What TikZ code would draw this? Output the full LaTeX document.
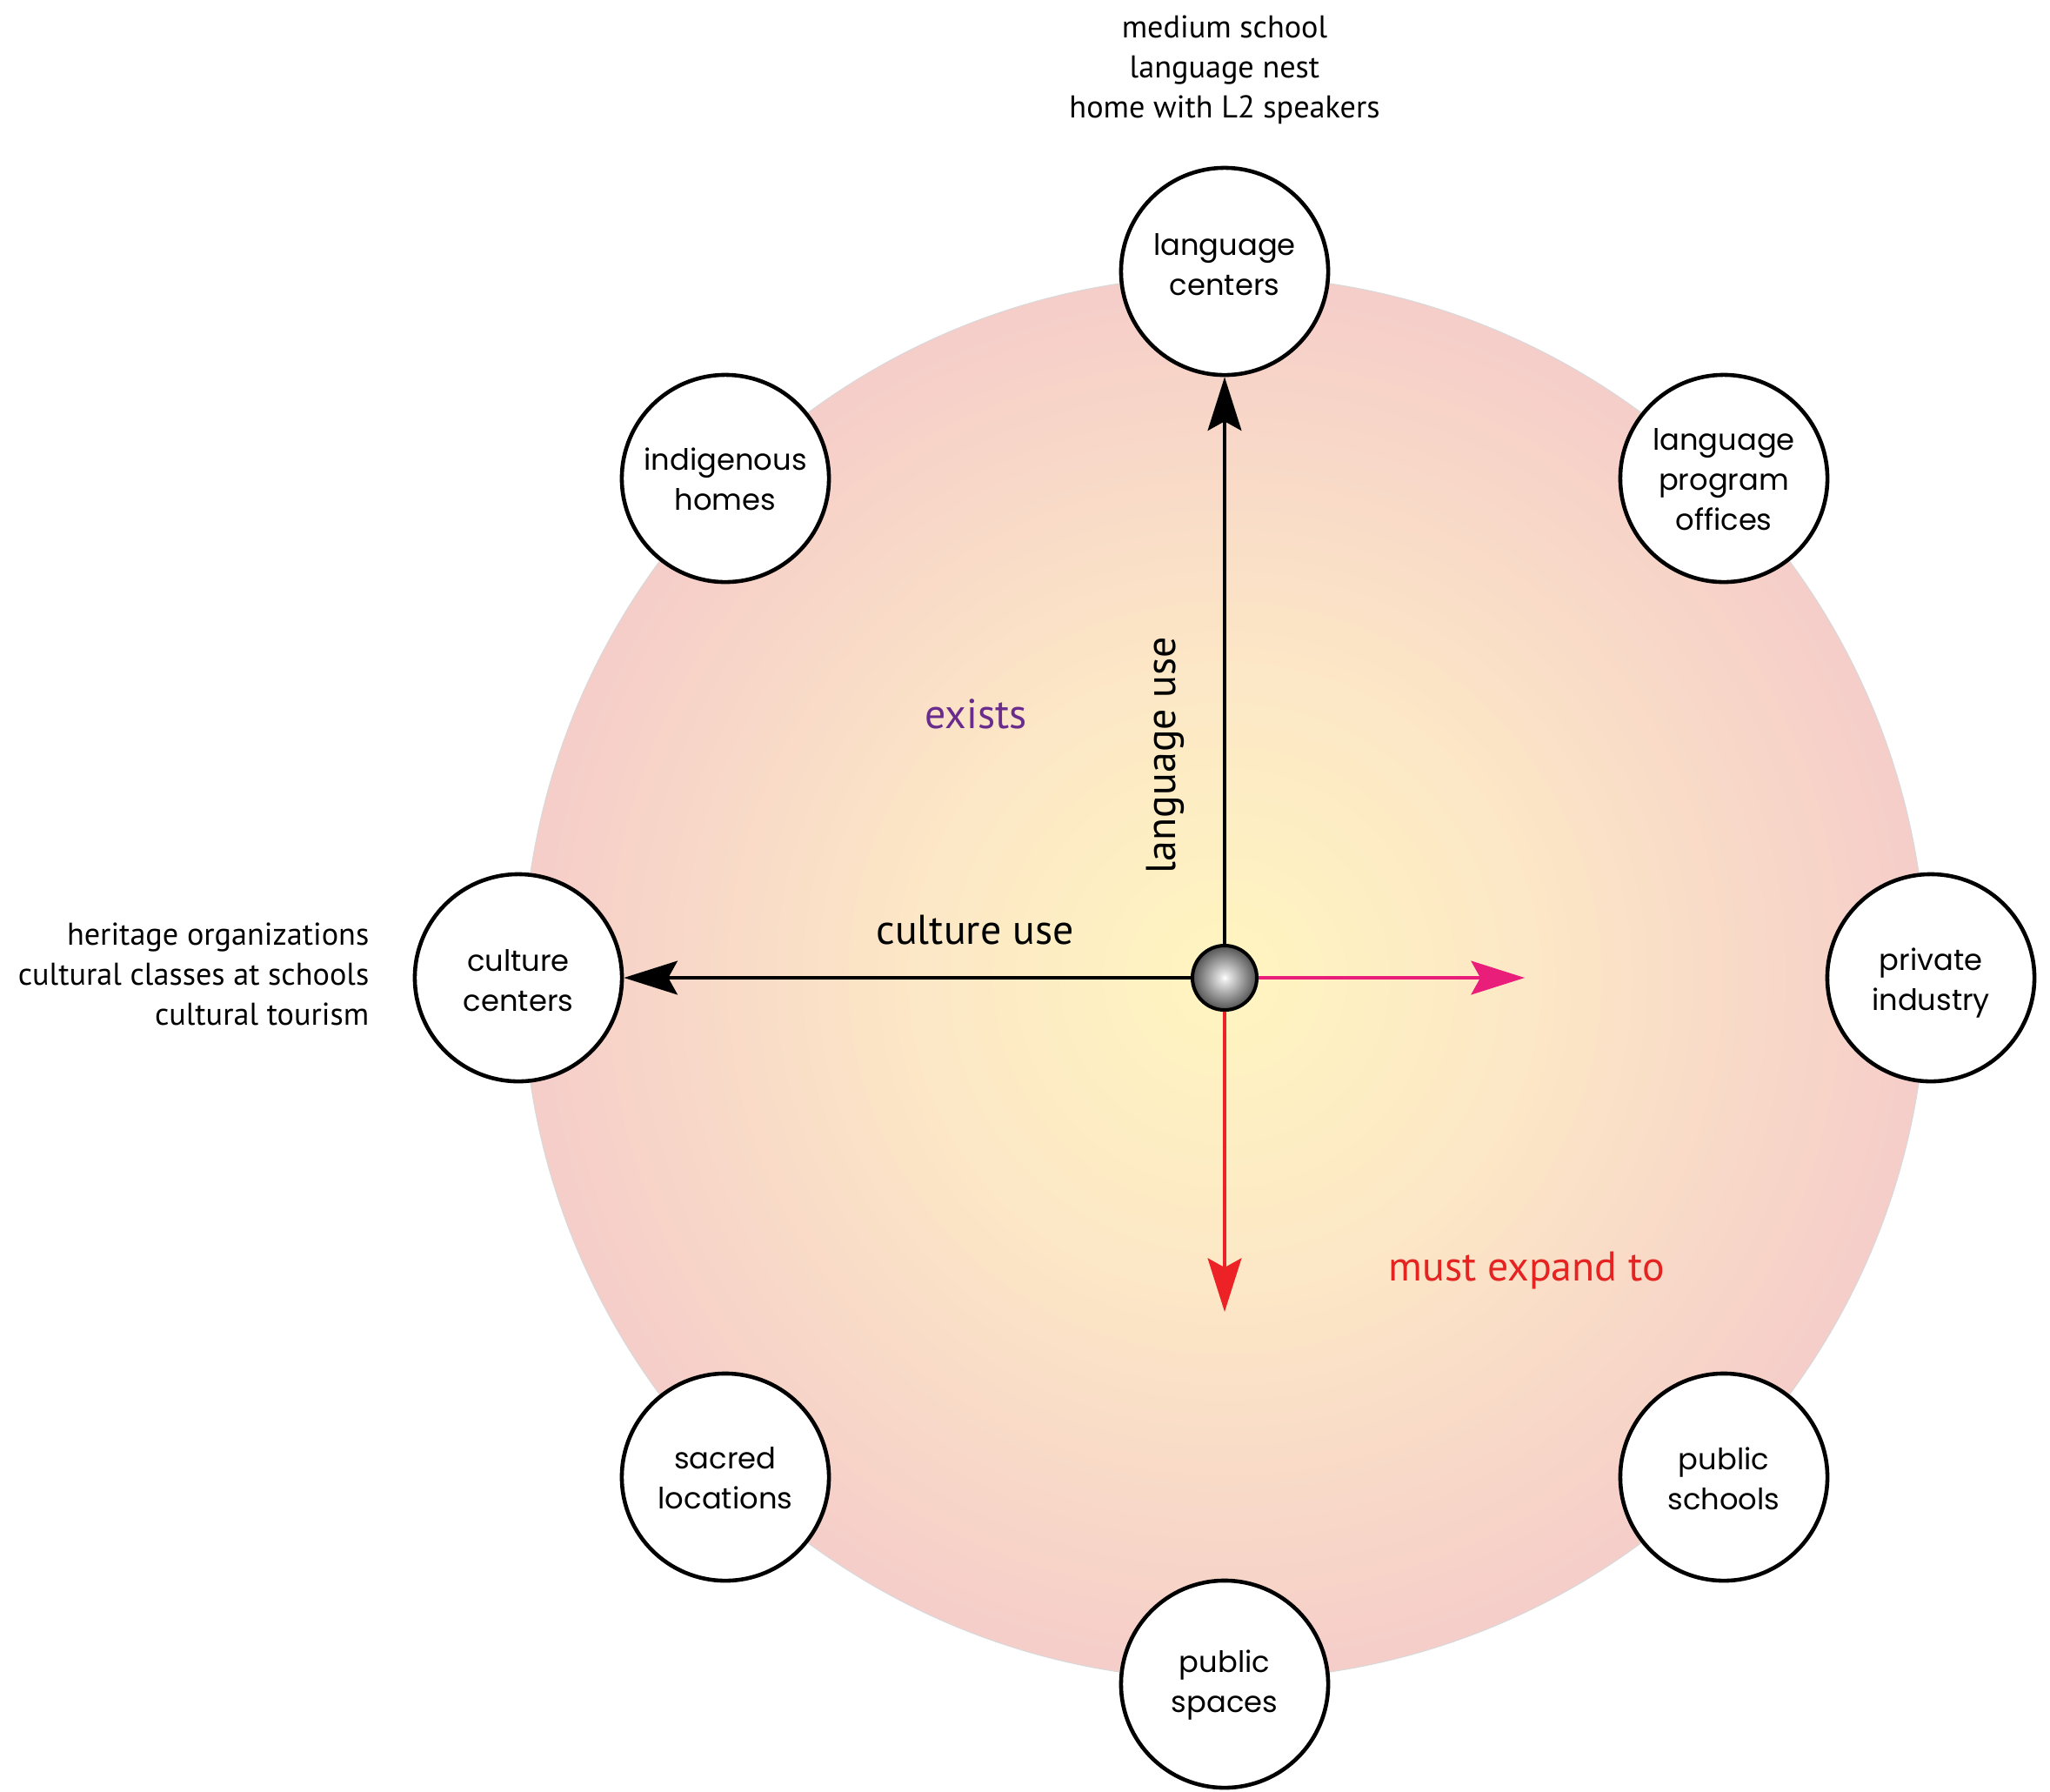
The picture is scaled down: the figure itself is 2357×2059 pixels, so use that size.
\documentclass[tikz,border=0pt]{standalone}
\usepackage{fontspec}
\setmainfont{PT Sans}
\newfontfamily\circfont{Poppins}
\usetikzlibrary{arrows.meta}

\definecolor{glowin}{HTML}{FFF5C0}
\definecolor{glowmid}{HTML}{FCE7C6}
\definecolor{glowout}{HTML}{F5CDC9}
\definecolor{pinkarrow}{HTML}{E91E7A}
\definecolor{redarrow}{HTML}{EC2227}
\definecolor{existpurple}{HTML}{6A2C8C}
\definecolor{expandred}{HTML}{E52421}

% warm glow of the central disc
\pgfdeclareradialshading{glow}{\pgfpoint{0bp}{0bp}}{%
  color(0bp)=(glowin); color(11bp)=(glowmid); color(25bp)=(glowout); color(50bp)=(glowout)}
% grey sphere at the origin of the axes
\pgfdeclareradialshading{sphere}{\pgfpoint{0bp}{0bp}}{%
  color(0bp)=(white); color(3bp)=(white!90!black); color(25bp)=(black!68); color(50bp)=(black!68)}

\tikzset{
  place/.style={circle, draw=black, line width=1.3pt, fill=white,
    minimum size=2.38cm, inner sep=0pt},
  placetext/.style={inner sep=0pt, align=center,
    font=\circfont\fontsize{9.6}{13.1}\selectfont},
  axisline/.style={line width=1.15pt,
    -{Stealth[length=17.5pt, width=11pt, inset=3pt]}},
  axislabel/.style={inner sep=0pt, font=\fontsize{13.6}{15}\selectfont},
  notes/.style={inner sep=0pt, font=\fontsize{10.3}{13.1}\selectfont},
}

\begin{document}
\begin{tikzpicture}[x=0.01cm, y=-0.01cm]
\useasboundingbox (0,0) rectangle (2357,2059);

% background disc
\shade[shading=glow] (1408,1124) circle[radius=807];
\draw[black!15, line width=0.3pt] (1408,1124) circle[radius=807];

% places around the disc
\node[place] (lc) at (1408,312)  {};
\node[place] (lpo) at (1982,550) {};
\node[place] (pi) at (2220,1124) {};
\node[place] (ps) at (1982,1698) {};
\node[place] (psp) at (1408,1936) {};
\node[place] (sl) at (834,1698)  {};
\node[place] (cc) at (596,1124)  {};
\node[place] (ih) at (834,550)   {};

\node[placetext] (lct) at ([yshift=0.075cm]lc.center)    {language\\centers};
\node[placetext] (lpot) at ([yshift=-0.015cm]lpo.center) {language\\program\\offices};
\node[placetext] (pit) at ([yshift=-0.06cm]pi.center)    {private\\industry};
\node[placetext] (pst) at ([yshift=-0.015cm]ps.center)   {public\\schools};
\node[placetext] (pspt) at ([yshift=-0.01cm]psp.center)  {public\\spaces};
\node[placetext] (slt) at ([yshift=-0.015cm]sl.center)   {sacred\\locations};
\node[placetext] (cct) at ([yshift=-0.03cm]cc.center)    {culture\\centers};
\node[placetext] (iht) at ([yshift=-0.01cm]ih.center)    {indigenous\\homes};

% axes
\node[circle, draw=black, line width=1.15pt, shade, shading=sphere,
      minimum size=0.74cm, inner sep=0pt] (hub) at (1408,1124) {};
\coordinate (pinkend) at (1753,1124);
\coordinate (redend) at (1408,1508);

\draw[axisline] (hub) -- (lc);
\draw[axisline] (hub) -- (cc);
\draw[axisline, pinkarrow] (hub) -- (pinkend);
\draw[axisline, redarrow] (hub) -- (redend);

% axis labels
\node[axislabel, rotate=90] (lu) at (1340,868) {language use};
\node[axislabel, anchor=base] (cu) at (1121,1085) {culture use};
\node[axislabel, anchor=base, text=existpurple] (ex) at (1122,837) {exists};
\node[axislabel, anchor=base, text=expandred] (me) at (1755,1472) {must expand to};

% examples
\node[notes, align=center] (topnote) at (1408,80)
  {medium school\\language nest\\home with L2 speakers};
\node[notes, align=right, anchor=east] (leftnote) at (425,1120)
  {heritage organizations\\cultural classes at schools\\cultural tourism};
\end{tikzpicture}
\end{document}
